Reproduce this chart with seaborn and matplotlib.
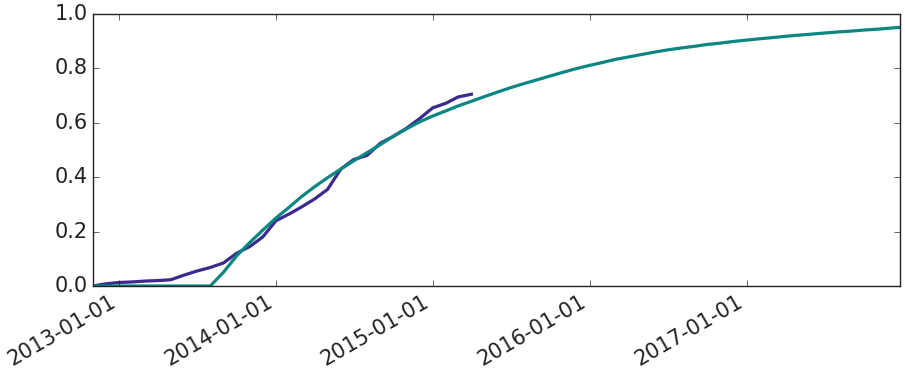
import pandas as pd
import matplotlib
matplotlib.use("Agg")
import matplotlib.pyplot as plt
import matplotlib.dates as mdates
import seaborn as sns

# observed cumulative share, monthly
observed_dates = pd.date_range("2012-11-01", "2015-04-01", freq="MS")
observed_values = [0.0, 0.008, 0.013, 0.015, 0.018, 0.020, 0.023, 0.040,
                   0.055, 0.068, 0.085, 0.120, 0.145, 0.180, 0.240, 0.265,
                   0.290, 0.320, 0.355, 0.430, 0.465, 0.480, 0.525, 0.550,
                   0.580, 0.615, 0.655, 0.672, 0.695, 0.705]

# fitted curve, monthly up to the end of 2017
fit_dates = (list(pd.date_range("2012-11-01", "2017-12-01", freq="MS"))
             + [pd.Timestamp("2017-12-24")])
fit_values = [0.0, 0.0, 0.0, 0.0, 0.0, 0.0, 0.0, 0.0, 0.0, 0.0,
              0.051, 0.110, 0.160, 0.205, 0.250, 0.290, 0.328, 0.365,
              0.398, 0.430, 0.460, 0.490, 0.520, 0.550, 0.578, 0.603,
              0.625, 0.644, 0.662, 0.679, 0.696, 0.713, 0.729, 0.744,
              0.758, 0.772, 0.786, 0.799, 0.811,
              0.822, 0.833, 0.842, 0.851, 0.860, 0.868, 0.875, 0.881,
              0.888, 0.893, 0.899, 0.904, 0.909, 0.913, 0.918, 0.922,
              0.926, 0.930, 0.934, 0.937, 0.941, 0.944, 0.948, 0.951]

observed = pd.DataFrame({"date": observed_dates, "value": observed_values})
fit = pd.DataFrame({"date": fit_dates, "value": fit_values})

plt.style.use("classic")
plt.rcParams["font.family"] = ["DejaVu Sans"]
plt.rcParams["font.size"] = 15

fig = plt.figure(figsize=(9.05, 3.77), dpi=100, facecolor="white")
ax = fig.add_axes([0.1028, 0.2414, 0.8917, 0.7215])
ax.set_facecolor("white")

sns.lineplot(data=observed, x="date", y="value", ax=ax, color="#3a2a8e", lw=2.3)
sns.lineplot(data=fit, x="date", y="value", ax=ax, color="#0b8682", lw=2.3)

ax.set_xlim(pd.Timestamp("2012-11-01"), pd.Timestamp("2017-12-24"))
ax.set_ylim(0, 1)
ax.set_yticks([0.0, 0.2, 0.4, 0.6, 0.8, 1.0])
ax.yaxis.set_major_formatter(plt.FormatStrFormatter("%.1f"))
ax.xaxis.set_major_locator(mdates.YearLocator())
ax.xaxis.set_major_formatter(mdates.DateFormatter("%Y-%m-%d"))
ax.set_xlabel("")
ax.set_ylabel("")
for lab in ax.get_xticklabels():
    lab.set_rotation(30)
    lab.set_ha("right")
ax.tick_params(labelsize=15, colors="#222222", labelcolor="#222222")
for s in ax.spines.values():
    s.set_color("#222222")

fig.savefig("out.png", dpi=100, facecolor="white")
